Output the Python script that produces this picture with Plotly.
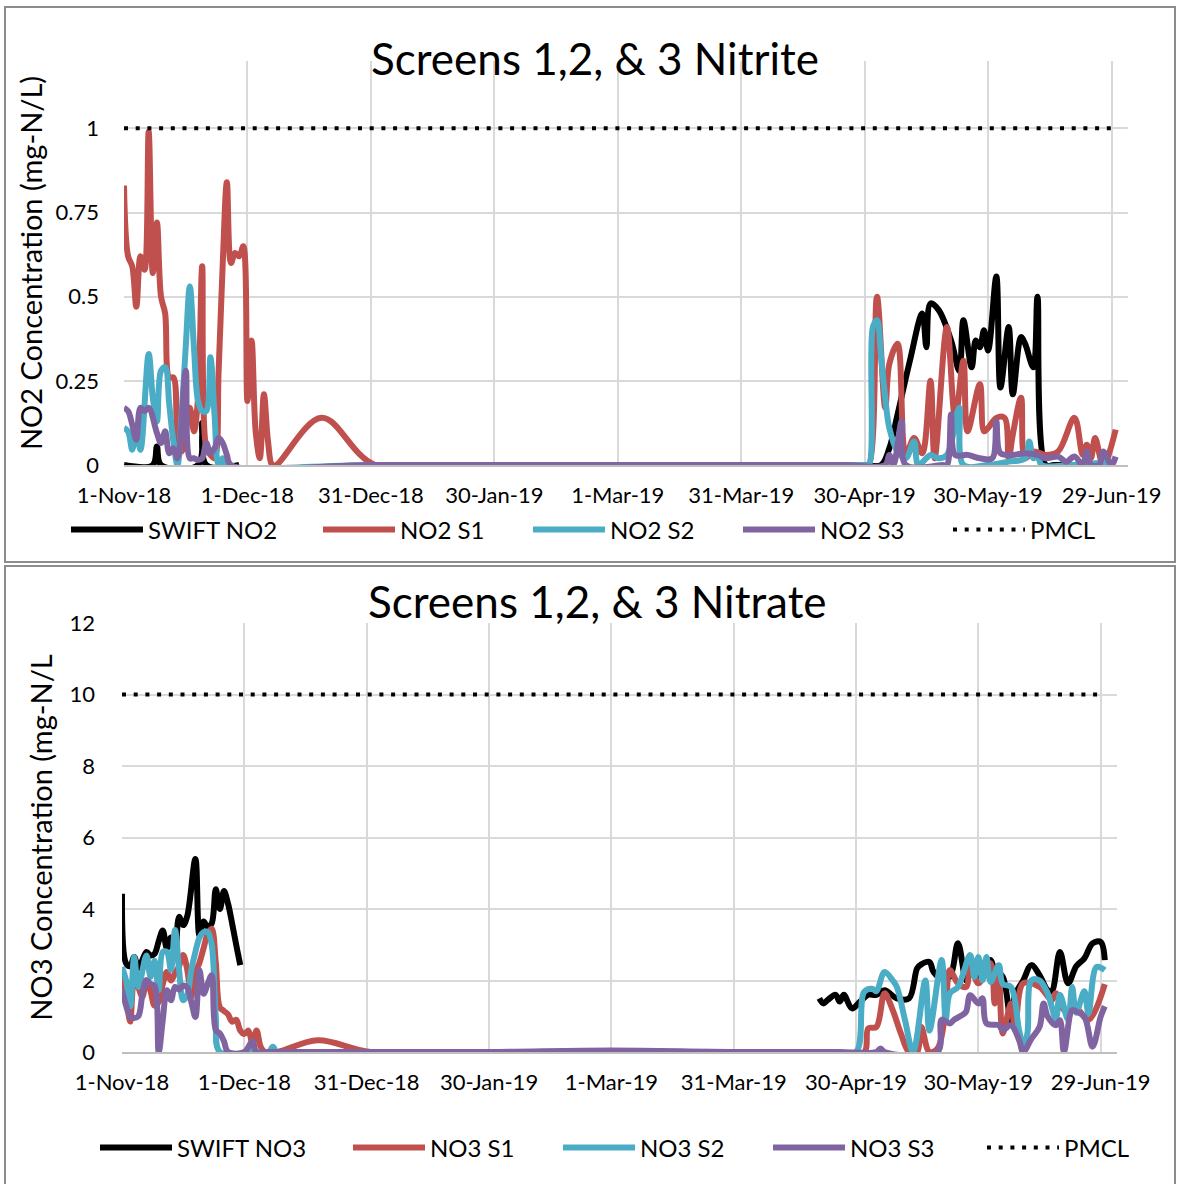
import datetime as dt
import plotly.graph_objects as go

START = dt.date(2018, 11, 1)
X_RANGE = ["2018-11-01", "2019-07-03"]

tick_dates = ["2018-11-01", "2018-12-01", "2018-12-31", "2019-01-30", "2019-03-01",
              "2019-03-31", "2019-04-30", "2019-05-30", "2019-06-29"]
tick_labels = ["1-Nov-18", "1-Dec-18", "31-Dec-18", "30-Jan-19", "1-Mar-19",
               "31-Mar-19", "30-Apr-19", "30-May-19", "29-Jun-19"]

# ---------------- Nitrite (days since 1-Nov-18, mg-N/L) ----------------
swift_no2_day = [0, 7, 8, 9, 18, 19, 20, 28, 100, 171, 180, 184, 186, 188, 191, 194, 195, 196, 198,
                 201, 203, 204, 206, 207, 208, 209, 210, 212, 213, 215, 216, 218, 219, 221, 222,
                 224, 226, 230, 235, 240]
swift_no2_val = [0, 0, 0.055, 0, 0, 0.125, 0, 0, None, 0, 0, 0, 0.05, 0.15, 0.31, 0.45, 0.35, 0.48, 0.46,
                 0.37, 0.28, 0.43, 0.29, 0.37, 0.35, 0.40, 0.34, 0.56, 0.23, 0.41, 0.21, 0.38, 0.36, 0.29, 0.50,
                 0, 0, 0, 0, 0]

no2_s1_day = [0, 1, 2, 3, 4, 5, 6, 7, 8, 9, 10, 11, 12, 13, 14, 16, 17, 18, 19, 20, 21, 22, 23, 24, 25,
              26, 27, 28, 29, 30, 31, 32, 33, 34, 35, 36, 37, 48, 61, 90, 120, 150, 175, 180,
              181, 183, 185, 186, 188, 190, 192, 194, 196, 197, 200, 202, 204, 205, 208, 209, 210, 212,
              214, 215, 216, 218, 219, 221, 224, 227, 231, 233, 234, 235, 236, 238, 241]
no2_s1_val = [0.83, 0.62, 0.59, 0.47, 0.62, 0.58, 0.99, 0.57, 0.72, 0.50, 0.45, 0.26, 0.26, 0.08, 0.04, 0.17, 0.10, 0.20, 0.59, 0.05, 0.03, 0.02, 0.28, 0.60, 0.84,
              0.60, 0.63, 0.62, 0.65, 0.19, 0.37, 0.10, 0.02, 0.21, 0.07, 0, 0, 0.14, 0, 0, 0, 0, 0, 0,
              0, 0.50, 0.17, 0.30, 0.36, 0.03, 0.08, 0.035, 0.25, 0.02, 0.41, 0.14, 0.31, 0.10, 0.24, 0.10, 0.11, 0.14,
              0.14, 0.02, 0.09, 0.20, 0.02, 0.04, 0.03, 0.04, 0.14, 0.03, 0.06, 0.02, 0.08, 0, 0.105]

no2_s2_day = [0, 1, 2, 3, 4, 6, 7, 8, 9, 10, 11, 12, 13, 14, 15, 16, 17, 18, 19, 20, 21, 22, 23, 24, 25,
              61, 120, 175, 180, 181, 182, 183, 184, 185, 186, 188, 190, 192, 193, 195, 196, 198, 200,
              203, 204, 210, 215, 219, 220, 221, 222, 223, 230, 240]
no2_s2_val = [0.11, 0.10, 0.045, 0.11, 0.045, 0.33, 0.20, 0.13, 0.28, 0.29, 0.18, 0.07, 0, 0.15, 0.35, 0.53, 0.35, 0.19, 0.16, 0.16, 0.32, 0.15, 0, 0.02, 0,
              0, 0, 0, 0, 0, 0.41, 0.43, 0.32, 0.20, 0.11, 0.04, 0.02, 0.07, 0, 0.02, 0.03, 0.02, 0.03,
              0.17, 0, 0, 0.01, 0.02, 0.07, 0.02, 0.03, 0, 0, 0.01]

no2_s3_day = [0, 1, 2, 3, 4, 5, 6, 8, 9, 10, 11, 12, 13, 15, 16, 17, 18, 19, 20, 21, 22, 23, 24, 25, 26,
              61, 120, 175, 185, 186, 187, 189, 190, 199, 200, 201, 202, 205, 208, 211, 212, 213, 216,
              219, 222, 224, 227, 229, 231, 233, 234, 235, 237, 238, 240, 241]
no2_s3_val = [0.17, 0.16, 0.12, 0.075, 0.17, 0.16, 0.17, 0.095, 0.065, 0.10, 0.035, 0.05, 0.02, 0.28, 0.02, 0.02, 0.015, 0.02, 0.065, 0.035, 0.05, 0.08, 0.065, 0.03, 0,
              0, 0, 0, 0, 0.03, 0, 0.13, 0, 0, 0, 0.15, 0.03, 0.03, 0.02, 0.02, 0.13, 0.035, 0.03,
              0.035, 0.03, 0.02, 0.025, 0.01, 0.025, 0, 0.04, 0, 0, 0.04, 0, 0.025]

pmcl_day = [0, 240]
pmcl_no2 = [1, 1]

# ---------------- Nitrate (days since 1-Nov-18, mg-N/L) ----------------
swift_no3_day = [0, 1, 2, 3, 4, 6, 7, 8, 9, 10, 11, 12, 13, 14, 15, 16, 18, 19, 20, 21, 22, 23, 24, 25, 26, 27, 28, 29,
                 100,
                 171, 172, 173, 175, 176, 177, 179, 181, 183, 185, 187, 190, 193, 195, 196, 198, 199, 201, 203,
                 205, 207, 208, 211, 213, 214, 216, 218, 219, 221, 223, 225, 227, 228, 230, 232, 234, 236, 238,
                 240, 241]
swift_no3_val = [4.43, 2.48, 2.40, 2.66, 2.35, 2.80, 2.70, 2.75, 3.10, 3.40, 2.90, 3.20, 2.80, 3.78, 3.55, 3.80, 5.40, 3.25, 3.65, 3.50, 3.60, 4.55, 4.00, 4.50, 4.15, 3.60, 3.00, 2.43,
                 None,
                 1.50, 1.36, 1.45, 1.60, 1.41, 1.60, 1.22, 1.41, 1.60, 1.60, 1.73, 1.50, 1.50, 2.34, 2.45, 2.52, 2.24, 2.06, 2.10,
                 3.04, 2.00, 2.30, 2.10, 2.57, 2.30, 2.10, 0.80, 1.60, 2.00, 2.43, 2.15, 1.73, 1.70, 2.80, 1.92, 2.40, 2.62, 3.04,
                 3.08, 2.57]

no3_s1_day = [0, 1, 2, 3, 4, 5, 6, 7, 8, 9, 10, 11, 12, 13, 14, 15, 16, 17, 18, 19, 20, 21, 22, 23, 24, 25, 26, 27, 28, 29, 30,
              31, 32, 33, 34, 35, 38, 48, 61, 90, 120, 150, 175, 182,
              183, 185, 187, 189, 191, 193, 195, 196, 198, 200, 202, 203, 205, 207, 208, 210, 213, 214, 215, 216,
              218, 219, 221, 225, 228, 229, 231, 234, 237, 241]
no3_s1_val = [2.20, 1.60, 0.85, 2.00, 1.80, 1.55, 2.00, 1.70, 1.30, 1.40, 1.90, 2.24, 2.00, 2.20, 2.40, 2.71, 2.30, 1.55, 2.20, 2.50, 2.90, 3.30, 3.45, 2.50, 1.25, 1.15, 1.05, 0.85, 0.90, 0.60, 0.50,
              0.60, 0.23, 0.60, 0.15, 0, 0, 0.33, 0, 0, 0, 0, 0, 0,
              0.66, 0.70, 1.64, 1.17, 0.52, 0, 0, 0.70, 0, 0.10, 1.20, 2.29, 1.92, 1.82, 2.43, 1.92, 2.48, 1.36, 2.20, 0.52,
              1.36, 0.61, 1.92, 1.82, 1.45, 1.64, 1.17, 1.22, 0.90, 1.90]

no3_s2_day = [0, 1, 2, 3, 4, 6, 7, 8, 9, 10, 11, 12, 13, 14, 15, 16, 17, 18, 19, 20, 21, 22, 23, 24, 31, 32, 33, 36, 37, 38,
              61, 120, 175, 180,
              182, 184, 185, 187, 189, 190, 192, 194, 197, 198, 201, 202, 203, 205, 208, 209, 210, 211, 212, 213,
              215, 216, 218, 220, 221, 222, 223, 225, 227, 229, 230, 232, 233, 234, 236, 237, 239, 241]
no3_s2_val = [2.38, 2.00, 1.27, 2.66, 1.82, 2.70, 2.10, 2.55, 1.73, 2.80, 2.80, 2.30, 3.41, 2.30, 1.45, 1.60, 2.30, 2.80, 3.20, 3.35, 3.36, 3.00, 1.00, 0, 0, 0.10, 0, 0, 0.15, 0,
              0, 0, 0, 0,
              1.68, 1.77, 1.70, 2.24, 2.00, 1.82, 0.90, 0, 2.00, 0.60, 2.57, 0.90, 1.64, 1.82, 2.71, 2.10, 2.66, 2.00, 2.66, 1.96,
              2.43, 1.90, 1.82, 0.60, 0.20, 0.50, 2.00, 2.00, 1.64, 0.94, 1.60, 0.90, 1.82, 1.10, 1.70, 1.08, 2.38, 2.29]

no3_s3_day = [0, 1, 2, 3, 4, 5, 6, 7, 8, 9, 10, 11, 12, 13, 14, 15, 16, 17, 18, 19, 20, 21, 22, 23, 24, 25, 26, 30, 32, 33, 36,
              61, 90, 120, 150, 175, 185, 186, 187, 200,
              201, 203, 204, 206, 207, 208, 210, 211, 212, 215, 216, 218, 220, 221, 223, 225, 226, 227, 229, 230,
              231, 233, 234, 236, 238, 240, 241]
no3_s3_val = [1.73, 1.30, 0.99, 0.95, 1.00, 1.60, 2.01, 1.90, 1.85, 0, 0.90, 1.73, 1.45, 1.82, 1.75, 1.86, 1.80, 1.40, 0.98, 2.29, 1.63, 1.90, 2.15, 0.61, 0.52, 0.30, 0, 0, 0.30, 0, 0,
              0, 0, 0.04, 0, 0, 0, 0.10, 0, 0,
              0.90, 0.80, 0.90, 1.03, 1.13, 1.59, 1.36, 1.50, 0.80, 0.75, 0.61, 0.75, 0.33, 0, 0.37, 0.70, 1.36, 0.99, 0.75, 0.89,
              0, 1.17, 1.13, 0.99, 0.15, 0.99, 1.28]

pmcl_no3 = [10, 10]

# ---------------- styling ----------------
FONT = "Lato"
W, H = 1177, 1184
BLACK, RED, CYAN, PURPLE = "#000000", "#C0504D", "#4BACC6", "#8064A2"
LW = 6


def to_dates(days):
    return [START + dt.timedelta(days=d) for d in days]


def px_x(p):
    return p / W


def px_y(p):
    return 1 - p / H


fig = go.Figure()

# legend slots (left edge of each legend entry, in px) for the top and bottom panels
top_legend_x = [66, 318, 528, 738, 948]
bot_legend_x = [95, 348, 558, 768, 982]

top_series = [
    ("SWIFT NO2", swift_no2_day, swift_no2_val, BLACK),
    ("NO2 S1", no2_s1_day, no2_s1_val, RED),
    ("NO2 S2", no2_s2_day, no2_s2_val, CYAN),
    ("NO2 S3", no2_s3_day, no2_s3_val, PURPLE),
]
bot_series = [
    ("SWIFT NO3", swift_no3_day, swift_no3_val, BLACK),
    ("NO3 S1", no3_s1_day, no3_s1_val, RED),
    ("NO3 S2", no3_s2_day, no3_s2_val, CYAN),
    ("NO3 S3", no3_s3_day, no3_s3_val, PURPLE),
]

legend_layouts = {}
lid = 0


def next_legend(xpx, ypx):
    global lid
    lid += 1
    key = "legend" if lid == 1 else f"legend{lid}"
    legend_layouts[key] = dict(orientation="h", x=px_x(xpx), y=px_y(ypx), xanchor="left", yanchor="middle",
                               font=dict(family=FONT, size=24, color="#000000"), itemwidth=72,
                               bgcolor="rgba(0,0,0,0)", borderwidth=0)
    return key


for i, (name, d, v, c) in enumerate(top_series):
    fig.add_trace(go.Scatter(x=to_dates(d), y=v, name=name, mode="lines",
                             line=dict(color=c, width=LW, shape="spline", smoothing=1.0),
                             connectgaps=False, xaxis="x", yaxis="y",
                             legend=next_legend(top_legend_x[i], 530)))
fig.add_trace(go.Scatter(x=to_dates(pmcl_day), y=pmcl_no2, name="PMCL", mode="lines",
                         line=dict(color=BLACK, width=4, dash="4px,7.7px"),
                         xaxis="x", yaxis="y", legend=next_legend(top_legend_x[4], 530)))

for i, (name, d, v, c) in enumerate(bot_series):
    fig.add_trace(go.Scatter(x=to_dates(d), y=v, name=name, mode="lines",
                             line=dict(color=c, width=LW, shape="spline", smoothing=1.0),
                             connectgaps=False, xaxis="x2", yaxis="y2",
                             legend=next_legend(bot_legend_x[i], 1148)))
fig.add_trace(go.Scatter(x=to_dates(pmcl_day), y=pmcl_no3, name="PMCL", mode="lines",
                         line=dict(color=BLACK, width=4, dash="4px,7.7px"),
                         xaxis="x2", yaxis="y2", legend=next_legend(bot_legend_x[4], 1148)))

GRID = "#D9D9D9"
tickfont = dict(family=FONT, size=22, color="#000000")

xcommon = dict(type="date", range=X_RANGE, tickmode="array", tickvals=tick_dates, ticktext=tick_labels,
               showgrid=True, gridcolor=GRID, gridwidth=1.5, showline=True, linecolor="#BFBFBF",
               linewidth=1.5, ticks="", tickfont=tickfont, ticklabelstandoff=10, zeroline=False,
               fixedrange=True, automargin=False)

fig.update_layout(
    template="none",
    width=W, height=H,
    margin=dict(l=0, r=0, t=0, b=0, autoexpand=False),
    paper_bgcolor="white", plot_bgcolor="white",
    showlegend=True,
    xaxis=dict(domain=[px_x(124), px_x(1128)], anchor="y", **xcommon),
    yaxis=dict(domain=[px_y(465), px_y(61)], anchor="x", range=[0, 1.2],
               tickmode="array", tickvals=[0, 0.25, 0.5, 0.75, 1], ticktext=["0", "0.25", "0.5", "0.75", "1"],
               showgrid=True, gridcolor=GRID, gridwidth=1.5, zeroline=False, showline=False,
               ticks="", tickfont=tickfont, ticklabelstandoff=24, automargin=False, fixedrange=True,
               title=dict(text="NO2 Concentration (mg-N/L)", font=dict(family=FONT, size=29, color="#000000"),
                          standoff=4)),
    xaxis2=dict(domain=[px_x(122), px_x(1117)], anchor="y2", **xcommon),
    yaxis2=dict(domain=[px_y(1052), px_y(623)], anchor="x2", range=[0, 12], dtick=2,
                showgrid=True, gridcolor=GRID, gridwidth=1.5, zeroline=False, showline=False,
                ticks="", tickfont=tickfont, ticklabelstandoff=26, automargin=False, fixedrange=True,
                title=dict(text="NO3 Concentration (mg-N/L", font=dict(family=FONT, size=29, color="#000000"),
                           standoff=8)),
    annotations=[
        dict(text="Screens 1,2, & 3 Nitrite", x=px_x(595), y=px_y(58), xref="paper", yref="paper",
             xanchor="center", yanchor="middle", showarrow=False,
             font=dict(family=FONT, size=44, color="#000000")),
        dict(text="Screens 1,2, & 3 Nitrate", x=px_x(597), y=px_y(601), xref="paper", yref="paper",
             xanchor="center", yanchor="middle", showarrow=False,
             font=dict(family=FONT, size=44, color="#000000")),
    ],
    shapes=[
        dict(type="rect", xref="paper", yref="paper", x0=px_x(5), x1=px_x(1175), y0=px_y(562), y1=px_y(7),
             line=dict(color="#8C8C8C", width=2), fillcolor="rgba(0,0,0,0)", layer="below"),
        dict(type="rect", xref="paper", yref="paper", x0=px_x(5), x1=px_x(1175), y0=px_y(1200), y1=px_y(566),
             line=dict(color="#8C8C8C", width=2), fillcolor="rgba(0,0,0,0)", layer="below"),
    ],
)
fig.update_layout(**legend_layouts)

fig.write_html("out.html")
